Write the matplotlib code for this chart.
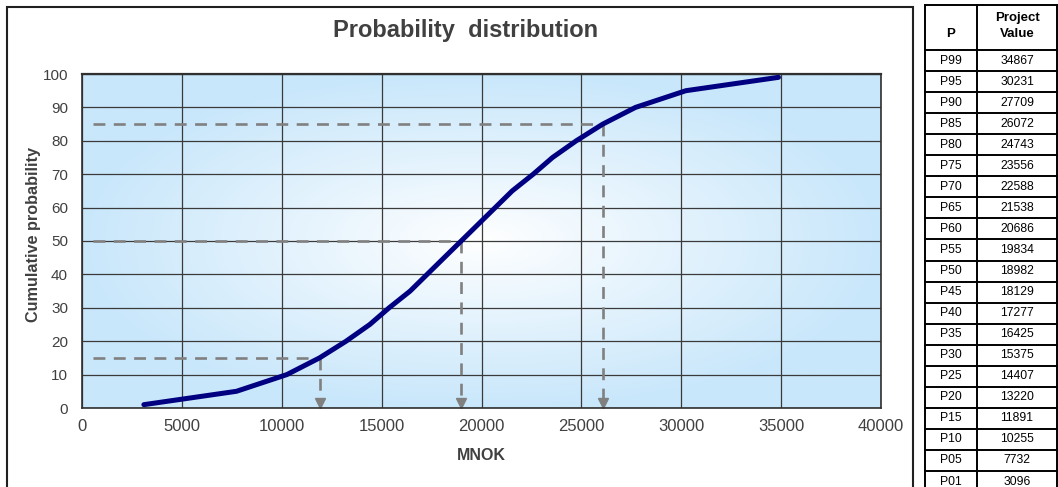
import numpy as np
import matplotlib
matplotlib.use("Agg")
import matplotlib.pyplot as plt
from matplotlib.colors import to_rgb
from matplotlib.patches import Rectangle
from matplotlib.lines import Line2D

plt.rcParams['font.family'] = ['Liberation Sans', 'DejaVu Sans']

# Percentile levels and project values (MNOK)
p_labels = ["P99", "P95", "P90", "P85", "P80", "P75", "P70", "P65", "P60", "P55", "P50",
            "P45", "P40", "P35", "P30", "P25", "P20", "P15", "P10", "P05", "P01"]
p_levels = [99, 95, 90, 85, 80, 75, 70, 65, 60, 55, 50, 45, 40, 35, 30, 25, 20, 15, 10, 5, 1]
values = [34867, 30231, 27709, 26072, 24743, 23556, 22588, 21538, 20686, 19834, 18982,
          18129, 17277, 16425, 15375, 14407, 13220, 11891, 10255, 7732, 3096]
highlighted = ["P15", "P50", "P85"]

x_ticks = [0, 5000, 10000, 15000, 20000, 25000, 30000, 35000, 40000]
y_ticks = [0, 10, 20, 30, 40, 50, 60, 70, 80, 90, 100]

W, H = 1058, 487
fig = plt.figure(figsize=(W / 100, H / 100), dpi=100)
text_col = "#404040"

# Chart frame
fig.patches.append(Rectangle((6.5 / W, -0.05), (913 - 6.5) / W, 1.05 - 7 / H,
                             transform=fig.transFigure, fill=False,
                             edgecolor="#202020", linewidth=1.5))

ax = fig.add_axes([82 / W, 1 - 408 / H, (881 - 82) / W, (408 - 74) / H])
ax.set_xlim(0, 40000)
ax.set_ylim(0, 100)

# Gradient fill: white centre fading to light blue at the edges
ny, nx = 300, 600
gx = np.linspace(-1, 1, nx)
gy = np.linspace(-1, 1, ny)
GX, GY = np.meshgrid(gx, gy)
pw = 2.2
r = (np.abs(GX) ** pw + np.abs(GY) ** pw) ** (1 / pw)
t = np.clip(r, 0, 1) ** 0.95
blue = np.array(to_rgb("#c9e7fb"))
white = np.array([1.0, 1.0, 1.0])
img = white[None, None, :] * (1 - t[..., None]) + blue[None, None, :] * t[..., None]
ax.imshow(img, extent=[0, 40000, 0, 100], aspect='auto', zorder=0, interpolation='bilinear')

ax.set_xticks(x_ticks)
ax.set_yticks(y_ticks)
ax.grid(True, color="#3a3a3a", linewidth=0.9, zorder=1)
ax.tick_params(length=0, labelcolor=text_col)
ax.tick_params(axis='x', labelsize=12, pad=8)
ax.tick_params(axis='y', labelsize=11, pad=10)
for s in ax.spines.values():
    s.set_color("#303030")
    s.set_linewidth(1.2)
ax.spines['top'].set_linewidth(1.6)

# Reference lines for highlighted percentiles
for lab in highlighted:
    i = p_labels.index(lab)
    v, p = values[i], p_levels[i]
    ax.plot([550, v], [p, p], color="#808080", linestyle=(0, (4.5, 3.2)), linewidth=1.9, zorder=2)
    ax.plot([v, v], [p, 1.5], color="#808080", linestyle=(0, (4.5, 3.2)), linewidth=1.9, zorder=2)
    ax.plot([v], [1.6], marker='v', markersize=7, color="#808080", zorder=2, clip_on=False)

# Cumulative distribution curve
ax.plot(values, p_levels, color="#000080", linewidth=3.6, solid_capstyle='round', zorder=3)

ax.set_xlabel("MNOK", fontsize=11.5, fontweight='bold', color=text_col, labelpad=10)
ax.set_ylabel("Cumulative probability", fontsize=11.7, fontweight='bold', color=text_col)
ax.yaxis.set_label_coords((41 - 82) / (881 - 82), 0.52)
fig.text(466 / W, 1 - 31 / H, "Probability  distribution", ha='center', va='center',
         fontsize=17, fontweight='bold', color=text_col)

# Percentile table on the right
tab = fig.add_axes([0, 0, 1, 1], facecolor='none')
tab.set_xlim(0, W)
tab.set_ylim(H, 0)
tab.axis('off')
x_l, x_m, x_r = 925, 977, 1057
y_top, y_head = 5, 50
row_h = 21.05
n = len(p_labels)
y_bot = y_head + row_h * n
lc = "#000000"
tab.add_line(Line2D([x_l, x_r], [y_top, y_top], color=lc, lw=1.4))
for xx in (x_l, x_m, x_r):
    tab.add_line(Line2D([xx, xx], [y_top, y_bot], color=lc, lw=1.4))
for k in range(n + 1):
    yy = y_head + k * row_h
    tab.add_line(Line2D([x_l, x_r], [yy, yy], color=lc, lw=1.4))
tab.text((x_l + x_m) / 2, 34, "P", ha='center', va='center', fontsize=9.5, fontweight='bold')
tab.text((x_m + x_r) / 2, 26, "Project\nValue", ha='center', va='center', fontsize=9.5,
         fontweight='bold', linespacing=1.55)
for k, (lab, val) in enumerate(zip(p_labels, values)):
    yc = y_head + (k + 0.5) * row_h
    tab.text((x_l + x_m) / 2, yc, lab, ha='center', va='center', fontsize=8.7)
    tab.text((x_m + x_r) / 2, yc, str(val), ha='center', va='center', fontsize=8.7)

fig.savefig("out.png", dpi=100)
